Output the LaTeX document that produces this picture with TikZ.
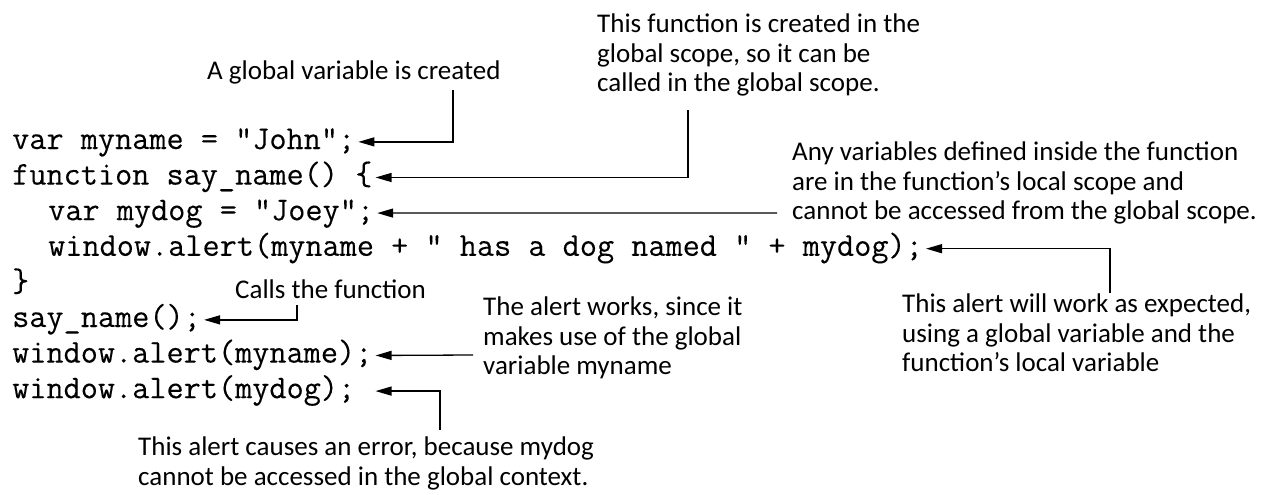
\documentclass[tikz,border=0pt]{standalone}
\usepackage{fontspec}
\newfontfamily\notefont{Carlito}
\newfontfamily\codefont[FakeBold=0.2]{Latin Modern Mono}
\usetikzlibrary{arrows.meta}

\begin{document}
\begin{tikzpicture}[x=1pt,y=-1pt,>={Triangle[length=16pt,width=9pt]},
  code/.style={anchor=base west,inner xsep=3pt,inner ysep=0pt,font=\codefont\fontsize{33.3}{35.6}\selectfont},
  note/.style={anchor=north west,inner sep=0pt,align=left,font=\notefont\fontsize{27}{29.5}\selectfont},
  link/.style={->,line width=1.3pt}]
\useasboundingbox (0,0) rectangle (1270,495);
% the code
\node[code] (c1) at (9,149) {var myname = "John";\strut};
\node[code] (c2) at (9,184.6) {function say\_name() \{\strut};
\node[code] (c3) at (45,220.2) {var mydog = "Joey";\strut};
\node[code] (c4) at (45,255.8) {window.alert(myname + " has a dog named " + mydog);\strut};
\node[code] (c5) at (9,291.4) {\}\strut};
\node[code] (c6) at (9,327) {say\_name();\strut};
\node[code] (c7) at (9,362.6) {window.alert(myname);\strut};
\node[code] (c8) at (9,398.2) {window.alert(mydog);\ \strut};
% the notes
\node[note,anchor=base west] (a1) at (207,80) {A global variable is created};
\node[note] (a2) at (597,14) {This function is created in the\\global scope, so it can be\\called in the global scope.};
\node[note] (a3) at (792,142) {Any variables defined inside the function\\are in the function’s local scope and\\cannot be accessed from the global scope.};
\node[note,anchor=base west] (a4) at (235,298) {Calls the function};
\node[note] (a5) at (483,297) {The alert works, since it\\makes use of the global\\variable myname};
\node[note] (a6) at (902,294) {This alert will work as expected,\\using a global variable and the\\function’s local variable};
\node[note] (a7) at (138,437) {This alert causes an error, because mydog\\cannot be accessed in the global context.};
% the arrows
\coordinate (k1) at (453,90);
\coordinate (k2) at (688,110);
\coordinate (k3) at (777,213);
\coordinate (k4) at (297,305);
\coordinate (k5) at (473,355);
\coordinate (k6) at (1110,293);
\coordinate (k7) at (440,430);
\draw[link] (k1) |- (c1.east);
\draw[link] (k2) |- (c2.east);
\draw[link] (k3) -- (c3.east);
\draw[link] (k6) |- (c4.east);
\draw[link] (k4) |- (c6.east);
\draw[link] (k5) -- (c7.east);
\draw[link] (k7) |- (c8.east);
\end{tikzpicture}
\end{document}
